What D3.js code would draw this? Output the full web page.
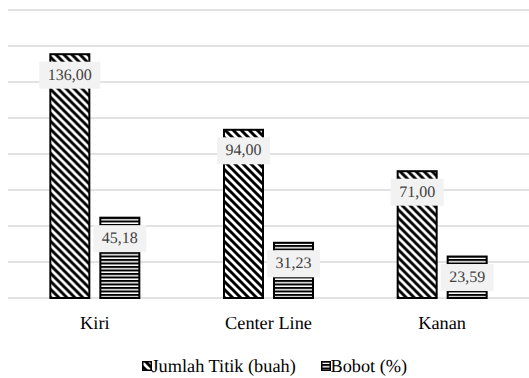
<!DOCTYPE html>
<html>
<head>
<meta charset="utf-8">
<script src="https://cdn.jsdelivr.net/npm/d3@7"></script>
<style>
  html, body { margin: 0; padding: 0; background: #fff; }
  svg { display: block; }
  text { text-rendering: geometricPrecision; }
</style>
</head>
<body>
<svg id="chart" width="529" height="378"></svg>
<script>
// Data
const categories = ["Kiri", "Center Line", "Kanan"];
const seriesNames = ["Jumlah Titik (buah)", "Bobot (%)"];
const jumlahTitik = [136.00, 94.00, 71.00];
const bobot = [45.18, 31.23, 23.59];
const yTicks = [0, 20, 40, 60, 80, 100, 120, 140, 160];

const FONT = '"Liberation Serif"';
const fmt = v => v.toFixed(2).replace(".", ",");

const svg = d3.select("#chart");
const plot = { left: 8, right: 529, top: 10, bottom: 298 };

// Patterns: wide downward diagonal and horizontal lines
const defs = svg.append("defs");
const diag = defs.append("pattern")
  .attr("id", "pat-diag").attr("patternUnits", "userSpaceOnUse")
  .attr("width", 8).attr("height", 8);
diag.append("rect").attr("width", 8).attr("height", 8).attr("fill", "#fff");
diag.append("path")
  .attr("d", "M-4,4L4,12M0,0L8,8M4,-4L12,4")
  .attr("stroke", "#000").attr("stroke-width", 2.9).attr("stroke-linecap", "square");

const horiz = defs.append("pattern")
  .attr("id", "pat-horiz").attr("patternUnits", "userSpaceOnUse")
  .attr("width", 8).attr("height", 3.5);
horiz.append("rect").attr("width", 8).attr("height", 3.5).attr("fill", "#fff");
horiz.append("rect").attr("y", 0).attr("width", 8).attr("height", 2).attr("fill", "#000");

const fills = ["url(#pat-diag)", "url(#pat-horiz)"];
const series = [jumlahTitik, bobot];

// Scales
const x0 = d3.scaleBand().domain(categories).range([plot.left, plot.right]).padding(0);
const groupW = x0.bandwidth() * 0.524;
const x1 = d3.scaleBand().domain(d3.range(series.length)).range([0, groupW])
  .paddingInner(0.18).paddingOuter(0);
const y = d3.scaleLinear().domain([0, 160]).range([plot.bottom, plot.top]);

// Gridlines
svg.append("g").selectAll("line").data(yTicks).join("line")
  .attr("x1", plot.left).attr("x2", plot.right)
  .attr("y1", d => y(d)).attr("y2", d => y(d))
  .attr("stroke", "#d9d9d9").attr("stroke-width", 1.5);

// Bars
const groups = svg.append("g").selectAll("g").data(categories).join("g")
  .attr("transform", c => `translate(${x0(c) + (x0.bandwidth() - groupW) / 2},0)`);

groups.each(function(c, ci) {
  const g = d3.select(this);
  series.forEach((vals, si) => {
    const v = vals[ci];
    g.append("rect")
      .attr("x", x1(si) + 1)
      .attr("y", y(v) + 1)
      .attr("width", x1.bandwidth() - 2)
      .attr("height", y(0) - y(v) - 1)
      .attr("fill", fills[si])
      .attr("stroke", "#000").attr("stroke-width", 2);
  });
});

// Value labels (inside end, on a light box)
groups.each(function(c, ci) {
  const g = d3.select(this);
  series.forEach((vals, si) => {
    const v = vals[ci];
    const cx = x1(si) + x1.bandwidth() / 2;
    const cy = y(v) + 22;
    const lg = g.append("g");
    const t = lg.append("text")
      .attr("x", cx).attr("y", cy)
      .attr("text-anchor", "middle").attr("dominant-baseline", "central")
      .style("font-family", FONT)
      .attr("font-size", 16).attr("fill", "#404040")
      .text(fmt(v));
    const bb = t.node().getBBox();
    lg.insert("rect", "text")
      .attr("x", cx - (bb.width + 17) / 2).attr("y", cy - 13.5)
      .attr("width", bb.width + 17).attr("height", 27)
      .attr("fill", "#f2f2f2");
  });
});

// Category axis labels
svg.append("g").selectAll("text").data(categories).join("text")
  .attr("x", c => x0(c) + x0.bandwidth() / 2)
  .attr("y", 323)
  .attr("text-anchor", "middle").attr("dominant-baseline", "central")
  .style("font-family", FONT)
  .attr("font-size", 18.3).attr("fill", "#000")
  .text(c => c);

// Legend
const legendItems = [
  { name: seriesNames[0], fill: fills[0], x: 142 },
  { name: seriesNames[1], fill: fills[1], x: 321 }
];
const lg = svg.append("g");
legendItems.forEach(it => {
  lg.append("rect")
    .attr("x", it.x + 0.75).attr("y", 361.75)
    .attr("width", 8.5).attr("height", 8.5)
    .attr("fill", it.fill).attr("stroke", "#000").attr("stroke-width", 1.5);
  lg.append("text")
    .attr("x", it.x + 9.5).attr("y", 366)
    .attr("dominant-baseline", "central")
    .style("font-family", FONT)
    .attr("font-size", 18.3).attr("fill", "#000")
    .text(it.name);
});
</script>
</body>
</html>
